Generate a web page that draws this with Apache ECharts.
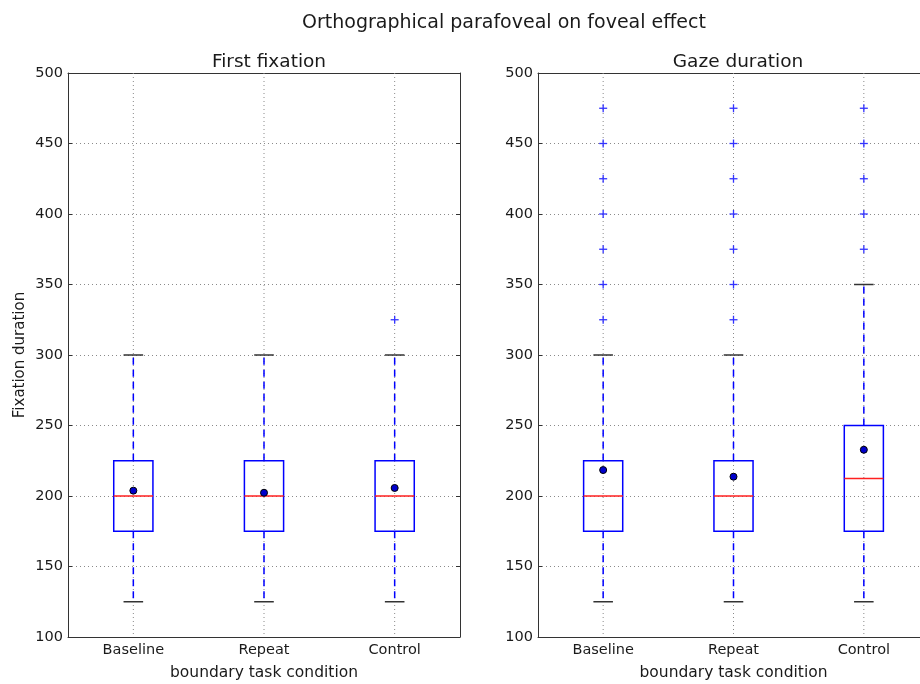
<!DOCTYPE html>
<html><head><meta charset="utf-8">
<script src="https://cdn.jsdelivr.net/npm/echarts@6/dist/echarts.min.js"></script>
<style>html,body{margin:0;padding:0;background:#fff}#c{width:920px;height:684px}</style>
</head><body><div id="c"></div>
<script>
// ---- data ----
const categories = ['Baseline', 'Repeat', 'Control'];
const mainTitle = 'Orthographical parafoveal on foveal effect';
const panelTitles = ['First fixation', 'Gaze duration'];
const yLabel = 'Fixation duration';
const xLabel = 'boundary task condition';

// First fixation
const ffLow = [125, 125, 125];
const ffQ1 = [175, 175, 175];
const ffMedian = [200, 200, 200];
const ffQ3 = [225, 225, 225];
const ffHigh = [300, 300, 300];
const ffMean = [203.8, 202.3, 205.7];
const ffOutliers = [[], [], [325]];

// Gaze duration
const gdLow = [125, 125, 125];
const gdQ1 = [175, 175, 175];
const gdMedian = [200, 200, 212.5];
const gdQ3 = [225, 225, 250];
const gdHigh = [300, 300, 350];
const gdMean = [218.4, 213.7, 232.8];
const gdOutliers = [
  [325, 350, 375, 400, 425, 450, 475],
  [325, 350, 375, 400, 425, 450, 475],
  [375, 400, 425, 450, 475]
];

// ---- build ----
function boxData(low, q1, med, q3, high, mean) {
  return categories.map((c, i) => [i, low[i], q1[i], med[i], q3[i], high[i], mean[i]]);
}
function outlierData(outs) {
  const d = [];
  outs.forEach((arr, i) => arr.forEach(v => d.push([i, v])));
  return d;
}

const BLUE = '#0000ff';
function boxRender(params, api) {
  const ci = api.value(0);
  const band = api.size([1, 0])[0];
  const w = band * 0.3, cw = band * 0.15;
  const pLow = api.coord([ci, api.value(1)]);
  const pQ1 = api.coord([ci, api.value(2)]);
  const pMed = api.coord([ci, api.value(3)]);
  const pQ3 = api.coord([ci, api.value(4)]);
  const pHigh = api.coord([ci, api.value(5)]);
  const pMean = api.coord([ci, api.value(6)]);
  const cs = params.coordSys;
  const x = pLow[0];
  return {
    type: 'group',
    children: [
      { type: 'line', shape: { x1: x, y1: cs.y, x2: x, y2: cs.y + cs.height },
        style: { stroke: '#8a8a8a', lineWidth: 1, lineDash: [1, 3] } },
      { type: 'line', shape: { x1: x, y1: pQ1[1], x2: x, y2: pLow[1] },
        style: { stroke: BLUE, lineWidth: 1.5, lineDash: [7, 5] } },
      { type: 'line', shape: { x1: x, y1: pQ3[1], x2: x, y2: pHigh[1] },
        style: { stroke: BLUE, lineWidth: 1.5, lineDash: [7, 5] } },
      { type: 'line', shape: { x1: x - cw / 2, y1: pLow[1], x2: x + cw / 2, y2: pLow[1] },
        style: { stroke: '#333', lineWidth: 1.5 } },
      { type: 'line', shape: { x1: x - cw / 2, y1: pHigh[1], x2: x + cw / 2, y2: pHigh[1] },
        style: { stroke: '#333', lineWidth: 1.5 } },
      { type: 'rect', shape: { x: x - w / 2, y: pQ3[1], width: w, height: pQ1[1] - pQ3[1] },
        style: { fill: 'none', stroke: BLUE, lineWidth: 1.5 } },
      { type: 'line', shape: { x1: x - w / 2, y1: pMed[1], x2: x + w / 2, y2: pMed[1] },
        style: { stroke: '#ff2020', lineWidth: 1.5 } },
      { type: 'circle', shape: { cx: pMean[0], cy: pMean[1], r: 3.5 },
        style: { fill: '#0000cc', stroke: '#000', lineWidth: 1 } }
    ]
  };
}
function plusRender(params, api) {
  const p = api.coord([api.value(0), api.value(1)]);
  const s = 4;
  return {
    type: 'group',
    children: [
      { type: 'line', shape: { x1: p[0] - s, y1: p[1], x2: p[0] + s, y2: p[1] }, style: { stroke: '#3333ff', lineWidth: 1.3 } },
      { type: 'line', shape: { x1: p[0], y1: p[1] - s, x2: p[0], y2: p[1] + s }, style: { stroke: '#3333ff', lineWidth: 1.3 } }
    ]
  };
}

const FONT = 'DejaVu Sans';
const TXT = '#1a1a1a';
const AX = '#333';

function xAxes(gi) {
  return [
    { type: 'category', gridIndex: gi, data: categories, position: 'bottom',
      boundaryGap: true,
      axisLine: { lineStyle: { color: AX, width: 1 } },
      axisTick: { inside: true, alignWithLabel: true, length: 4, lineStyle: { color: AX } },
      axisLabel: { fontFamily: FONT, fontSize: 14.5, color: TXT, margin: 6 },
      splitLine: { show: false },
      name: xLabel, nameLocation: 'middle', nameGap: 28,
      nameTextStyle: { fontFamily: FONT, fontSize: 15.5, color: TXT } },
    { type: 'category', gridIndex: gi, data: categories, position: 'top',
      boundaryGap: true,
      axisLine: { lineStyle: { color: AX, width: 1 } },
      axisTick: { inside: true, alignWithLabel: true, length: 4, lineStyle: { color: AX } },
      axisLabel: { show: false }, splitLine: { show: false } }
  ];
}
function yAxes(gi) {
  const a = [
    { type: 'value', gridIndex: gi, min: 100, max: 500, interval: 50, position: 'left',
      axisLine: { show: true, lineStyle: { color: AX, width: 1 } },
      axisTick: { show: true, inside: true, length: 4, lineStyle: { color: AX } },
      axisLabel: { fontFamily: FONT, fontSize: 14.5, color: TXT, margin: 5 },
      splitLine: { show: true, lineStyle: { color: '#8a8a8a', width: 1, type: [1, 3] } } },
    { type: 'value', gridIndex: gi, min: 100, max: 500, interval: 50, position: 'right',
      axisLine: { show: true, lineStyle: { color: AX, width: 1 } },
      axisTick: { show: true, inside: true, length: 4, lineStyle: { color: AX } },
      axisLabel: { show: false }, splitLine: { show: false } }
  ];
  if (gi === 0) {
    a[0].name = yLabel; a[0].nameLocation = 'middle'; a[0].nameGap = 40;
    a[0].nameTextStyle = { fontFamily: FONT, fontSize: 15, color: TXT };
  }
  return a;
}

const option = {
  backgroundColor: '#fff',
  animation: false,
  title: [
    { text: mainTitle, left: 499, top: 9, textAlign: 'center',
      textStyle: { fontFamily: FONT, fontSize: 19, fontWeight: 'normal', color: TXT } },
    { text: panelTitles[0], left: 264, top: 48, textAlign: 'center',
      textStyle: { fontFamily: FONT, fontSize: 18.5, fontWeight: 'normal', color: TXT } },
    { text: panelTitles[1], left: 733, top: 48, textAlign: 'center',
      textStyle: { fontFamily: FONT, fontSize: 18.5, fontWeight: 'normal', color: TXT } }
  ],
  grid: [
    { left: 68, top: 73, width: 392, height: 564, containLabel: false, outerBoundsMode: 'none' },
    { left: 538, top: 73, width: 391, height: 564, containLabel: false, outerBoundsMode: 'none' }
  ],
  xAxis: [...xAxes(0), ...xAxes(1)],
  yAxis: [...yAxes(0), ...yAxes(1)],
  series: [
    { type: 'custom', xAxisIndex: 0, yAxisIndex: 0, renderItem: boxRender,
      data: boxData(ffLow, ffQ1, ffMedian, ffQ3, ffHigh, ffMean), encode: { x: 0, y: [1, 2, 3, 4, 5, 6] } },
    { type: 'custom', xAxisIndex: 0, yAxisIndex: 0, renderItem: plusRender,
      data: outlierData(ffOutliers), encode: { x: 0, y: 1 } },
    { type: 'custom', xAxisIndex: 2, yAxisIndex: 2, renderItem: boxRender,
      data: boxData(gdLow, gdQ1, gdMedian, gdQ3, gdHigh, gdMean), encode: { x: 0, y: [1, 2, 3, 4, 5, 6] } },
    { type: 'custom', xAxisIndex: 2, yAxisIndex: 2, renderItem: plusRender,
      data: outlierData(gdOutliers), encode: { x: 0, y: 1 } }
  ]
};
const chart = echarts.init(document.getElementById('c'), null, { renderer: 'canvas' });
chart.setOption(option);
</script></body></html>
